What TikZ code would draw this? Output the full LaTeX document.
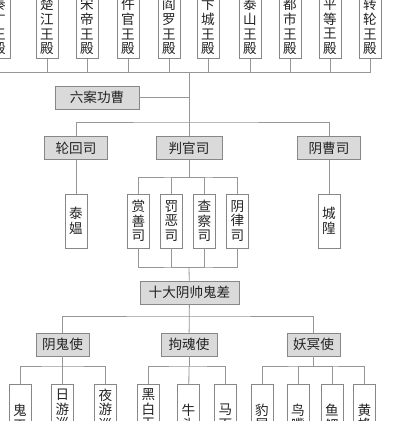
\documentclass[tikz,border=0pt]{standalone}
\usepackage{fontspec}
\usepackage{tikz}
\newfontfamily\cjk{Noto Sans CJK SC}
\definecolor{officegray}{RGB}{218,218,218}
\definecolor{framegray}{RGB}{135,135,135}
\definecolor{linegray}{RGB}{150,150,150}
\definecolor{inkgray}{RGB}{35,35,35}

\begin{document}
\begin{tikzpicture}[x=1pt, y=-1pt,
    office/.style={rectangle, draw=framegray, fill=officegray, line width=0.8pt,
                   minimum height=23pt, inner sep=0pt, text=inkgray,
                   font=\cjk\fontsize{13.6}{14.6}\selectfont},
    hall/.style={rectangle, draw=framegray, fill=white, line width=0.8pt,
                 minimum width=22pt, inner sep=0pt, align=center, text=inkgray,
                 font=\cjk\fontsize{13.6}{14.6}\selectfont},
    link/.style={draw=linegray, line width=0.8pt}]

\useasboundingbox (0,0) rectangle (400,421);
\fill[white] (0,0) rectangle (400,421);
\clip (0,0) rectangle (400,421);

% ten halls
\node (qinguang)  [hall, anchor=south, minimum height=64pt] at (-1,59)  {秦\\广\\王\\殿};
\node (chujiang)  [hall, anchor=south, minimum height=64pt] at (47,59)  {楚\\江\\王\\殿};
\node (songdi)    [hall, anchor=south, minimum height=64pt] at (87,59)  {宋\\帝\\王\\殿};
\node (wuguan)    [hall, anchor=south, minimum height=64pt] at (128,59) {仵\\官\\王\\殿};
\node (yanluo)    [hall, anchor=south, minimum height=64pt] at (169,59) {阎\\罗\\王\\殿};
\node (biancheng) [hall, anchor=south, minimum height=64pt] at (208,59) {卞\\城\\王\\殿};
\node (taishan)   [hall, anchor=south, minimum height=64pt] at (250,59) {泰\\山\\王\\殿};
\node (dushi)     [hall, anchor=south, minimum height=64pt] at (290,59) {都\\市\\王\\殿};
\node (pingdeng)  [hall, anchor=south, minimum height=64pt] at (330,59) {平\\等\\王\\殿};
\node (zhuanlun)  [hall, anchor=south, minimum height=64pt] at (370,59) {转\\轮\\王\\殿};

\coordinate (hub) at (189,72);
\node (liuan)   [office, minimum width=84pt] at (97,97.5) {六案功曹};

% three offices
\coordinate (sibus) at (189,122);
\node (lunhui)  [office, minimum width=63pt] at (76,148)  {轮回司};
\node (panguan) [office, minimum width=66pt] at (189,148) {判官司};
\node (yincao)  [office, minimum width=63pt] at (329,148) {阴曹司};

\coordinate (pgtop) at (189,177);
\coordinate (pgbot) at (189,267);
\node (taiao)      [hall, minimum height=54pt] at (76,221)    {泰\\媪};
\node (shangshan)  [hall, minimum height=54pt] at (138.5,221) {赏\\善\\司};
\node (fae)        [hall, minimum height=54pt] at (171.5,221) {罚\\恶\\司};
\node (chacha)     [hall, minimum height=54pt] at (204.5,221) {查\\察\\司};
\node (yinlv)      [hall, minimum height=54pt] at (237.5,221) {阴\\律\\司};
\node (chenghuang) [hall, minimum height=54pt] at (329,221)   {城\\隍};

% ghost messengers
\node (shida)   [office, minimum width=99pt] at (189.5,292.5) {十大阴帅鬼差};
\coordinate (shibus) at (189,316);
\node (yingui)  [office, minimum width=53pt] at (62.5,344.5)  {阴鬼使};
\node (gouhun)  [office, minimum width=56pt] at (189,344.5)   {拘魂使};
\node (yaoming) [office, minimum width=53pt] at (313.5,344.5) {妖冥使};

\coordinate (ygbus) at (62.5,366);
\coordinate (ghbus) at (189,366);
\coordinate (ymbus) at (313.5,366);
\node (guiwang)   [hall, anchor=north, minimum height=66pt] at (20,384)    {鬼\\王};
\node (riyou)     [hall, anchor=north, minimum height=50pt] at (62.5,384)  {日\\游\\巡};
\node (yeyou)     [hall, anchor=north, minimum height=50pt] at (105.5,384) {夜\\游\\巡};
\node (heibai)    [hall, anchor=north, minimum height=64pt] at (148.5,384) {黑\\白\\无\\常};
\node (niutou)    [hall, anchor=north, minimum height=66pt] at (188.5,384) {牛\\头};
\node (mamian)    [hall, anchor=north, minimum height=66pt] at (225.5,384) {马\\面};
\node (baowei)    [hall, anchor=north, minimum height=66pt] at (262,384)   {豹\\尾};
\node (niaozui)   [hall, anchor=north, minimum height=66pt] at (298,384)   {鸟\\嘴};
\node (yusai)     [hall, anchor=north, minimum height=66pt] at (332,384)   {鱼\\鳃};
\node (huangfeng) [hall, anchor=north, minimum height=66pt] at (364.5,384) {黄\\蜂};

% connectors
\draw[link] (qinguang) |- (hub) -| (zhuanlun);
\draw[link] (chujiang) |- (hub);
\draw[link] (songdi) |- (hub);
\draw[link] (wuguan) |- (hub);
\draw[link] (yanluo) |- (hub);
\draw[link] (biancheng) |- (hub);
\draw[link] (taishan) |- (hub);
\draw[link] (dushi) |- (hub);
\draw[link] (pingdeng) |- (hub);
\draw[link] (hub) -- (panguan);
\draw[link] (liuan) -- (liuan -| hub);

\draw[link] (lunhui) |- (sibus) -| (yincao);
\draw[link] (lunhui) -- (taiao);
\draw[link] (yincao) -- (chenghuang);
\draw[link] (panguan) -- (pgtop);
\draw[link] (shangshan) |- (pgtop) -| (yinlv);
\draw[link] (fae) |- (pgtop);
\draw[link] (chacha) |- (pgtop);
\draw[link] (shangshan) |- (pgbot) -| (yinlv);
\draw[link] (fae) |- (pgbot);
\draw[link] (chacha) |- (pgbot);
\draw[link] (pgbot) -- (shida);

\draw[link] (shida) -- (gouhun);
\draw[link] (yingui) |- (shibus) -| (yaoming);
\draw[link] (yingui) -- (ygbus);
\draw[link] (guiwang) |- (ygbus) -| (yeyou);
\draw[link] (riyou) -- (ygbus);
\draw[link] (gouhun) -- (ghbus);
\draw[link] (heibai) |- (ghbus) -| (mamian);
\draw[link] (niutou) -- (ghbus);
\draw[link] (yaoming) -- (ymbus);
\draw[link] (baowei) |- (ymbus) -| (huangfeng);
\draw[link] (niaozui) |- (ymbus);
\draw[link] (yusai) |- (ymbus);
\end{tikzpicture}
\end{document}
